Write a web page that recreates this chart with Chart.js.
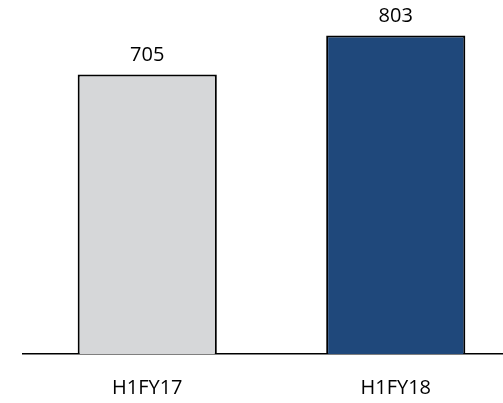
<!DOCTYPE html>
<html>
<head>
<meta charset="utf-8">
<script src="https://cdn.jsdelivr.net/npm/chart.js@4"></script>
<style>
  html, body { margin: 0; padding: 0; background: #fff; overflow: hidden; }
  #wrap { width: 520px; height: 403px; }
</style>
</head>
<body>
<div id="wrap"><canvas id="chart"></canvas></div>
<script>
// chart data
const categories = ['H1FY17', 'H1FY18'];
const values = [705, 803];
const barColors = ['#d6d7d9', '#1f487b'];

// draws the number above each bar
const valueLabels = {
  id: 'valueLabels',
  afterDatasetsDraw(chart) {
    const ctx = chart.ctx;
    const meta = chart.getDatasetMeta(0);
    ctx.save();
    ctx.font = '20px "Open Sans"';
    ctx.fillStyle = '#000';
    ctx.textAlign = 'center';
    ctx.textBaseline = 'bottom';
    meta.data.forEach((bar, i) => {
      ctx.fillText(values[i], bar.x, bar.y - 9);
    });
    ctx.restore();
  }
};

new Chart(document.getElementById('chart'), {
  type: 'bar',
  data: {
    labels: categories,
    datasets: [{
      data: values,
      backgroundColor: barColors,
      borderColor: '#000',
      borderWidth: 2,
      borderSkipped: 'bottom',
      categoryPercentage: 1,
      barPercentage: 0.56
    }]
  },
  options: {
    responsive: true,
    maintainAspectRatio: false,
    animation: false,
    layout: { padding: { left: 23, top: 5, right: 0, bottom: 0 } },
    plugins: {
      legend: { display: false },
      tooltip: { enabled: false }
    },
    scales: {
      x: {
        grid: { display: false, drawTicks: true, tickLength: 19 },
        border: { display: true, color: '#000', width: 1.5 },
        ticks: {
          color: '#000',
          padding: 3,
          font: { family: 'Open Sans', size: 20 }
        }
      },
      y: {
        display: false,
        min: 0,
        max: 880
      }
    }
  },
  plugins: [valueLabels]
});
</script>
</body>
</html>
